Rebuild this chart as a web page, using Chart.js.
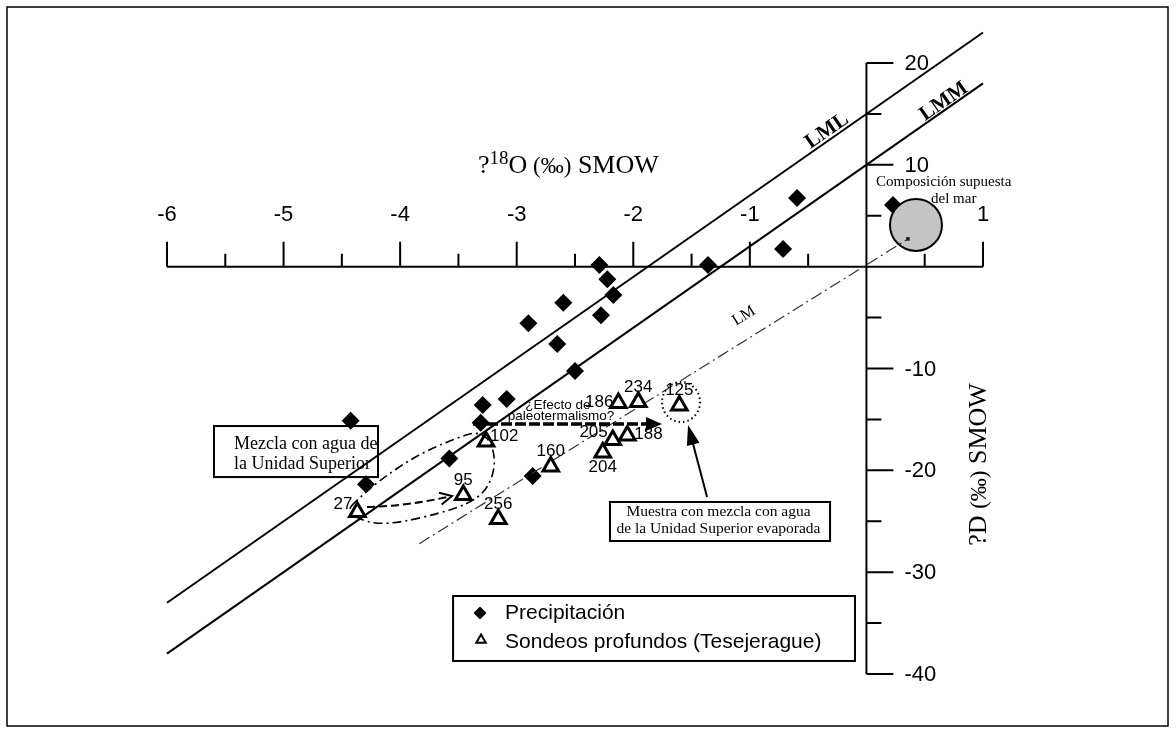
<!DOCTYPE html>
<html>
<head>
<meta charset="utf-8">
<script src="https://cdn.jsdelivr.net/npm/chart.js@4/dist/chart.umd.min.js"></script>
<style>
  html, body { margin: 0; padding: 0; background: #fff; }
  canvas { display: block; }
</style>
</head>
<body>
<canvas id="c" width="1176" height="733"></canvas>
<script>
// Precipitación: δ18O (‰) and δD (‰) SMOW
const precipO18 = [-0.595, 0.228, -0.715, -1.359, -2.291, -2.223, -2.171, -2.600, -2.277, -2.900,
                   -2.652, -2.500, -3.086, -3.292, -3.309, -4.424, -3.578, -4.293, -2.863];
const precipD   = [6.75, 6.06, 1.74, 0.17, 0.17, -1.24, -2.78, -3.54, -4.77, -5.56,
                   -7.59, -10.24, -12.99, -13.58, -15.32, -15.12, -18.85, -21.37, -20.55];

// Sondeos profundos (Tesejerague)
const sondeoIds = ['27', '95', '102', '256', '160', '204', '205', '188', '186', '234', '125'];
const sondeoO18 = [-4.367, -3.458, -3.263, -3.158, -2.708, -2.262, -2.176, -2.051, -2.128, -1.957, -1.605];
const sondeoD   = [-24.09, -22.42, -17.17, -24.78, -19.62, -18.25, -17.02, -16.58, -13.39, -13.29, -13.63];

// Reference lines
const lmmO18 = [-6, 1];
const lmmD   = [-38, 18];
const lmlO18 = [-6, 1];
const lmlD   = [-33, 23];
const lmO18  = [-3.835, 0.356];
const lmD    = [-27.2, 2.72];

// Assumed sea-water composition
const marO18 = [0.425];
const marD   = [4.1];

// Axis ticks
const xTickValues = [-6, -5, -4, -3, -2, -1, 1];
const yTickValues = [20, 10, -10, -20, -30, -40];

// where each borehole number sits relative to its triangle
const labelSide = {
  '27': 'upLeft', '95': 'above', '102': 'upRight', '256': 'above', '160': 'above',
  '204': 'below', '205': 'upLeft', '188': 'right', '186': 'left', '234': 'above', '125': 'above'
};

const SANS = '"Liberation Sans", Arial, Helvetica, sans-serif';
const SERIF = '"Liberation Serif", "Times New Roman", Times, serif';

const toPoints = (xs, ys) => xs.map((x, i) => ({ x, y: ys[i] }));

function arrowHead(c, fx, fy, tx, ty, len, halfW, filled) {
  const a = Math.atan2(ty - fy, tx - fx);
  const bx = tx - len * Math.cos(a), by = ty - len * Math.sin(a);
  const ox = -Math.sin(a) * halfW, oy = Math.cos(a) * halfW;
  c.beginPath();
  c.moveTo(bx + ox, by + oy);
  c.lineTo(tx, ty);
  c.lineTo(bx - ox, by - oy);
  if (filled) { c.closePath(); c.fill(); } else { c.stroke(); }
}

function smoothClosed(c, pts) {
  const n = pts.length;
  const mid = (a, b) => [(a[0] + b[0]) / 2, (a[1] + b[1]) / 2];
  const m = mid(pts[n - 1], pts[0]);
  c.beginPath();
  c.moveTo(m[0], m[1]);
  for (let i = 0; i < n; i++) {
    const p = pts[i], q = pts[(i + 1) % n];
    const mm = mid(p, q);
    c.quadraticCurveTo(p[0], p[1], mm[0], mm[1]);
  }
  c.closePath();
  c.stroke();
}

const decor = {
  id: 'isotopeDecor',
  beforeDraw(chart) {
    const c = chart.ctx;
    c.save();
    c.fillStyle = '#fff';
    c.fillRect(0, 0, chart.width, chart.height);
    c.strokeStyle = '#000';
    c.lineWidth = 1.5;
    c.strokeRect(7, 7, chart.width - 15, chart.height - 14);
    c.restore();
  },
  beforeDatasetsDraw(chart) {
    const c = chart.ctx, xs = chart.scales.x, ys = chart.scales.y;
    const X = v => xs.getPixelForValue(v), Y = v => ys.getPixelForValue(v);
    const x0 = X(0), y0 = Y(0);
    c.save();
    c.strokeStyle = '#000';
    c.lineWidth = 2;
    c.beginPath();
    // δ18O axis along δD = 0
    c.moveTo(X(-6), y0); c.lineTo(X(1), y0);
    for (let k = -12; k <= 2; k++) {
      const px = X(k / 2);
      c.moveTo(px, y0); c.lineTo(px, y0 - (k % 2 === 0 ? 25 : 13));
    }
    // δD axis along δ18O = 0
    c.moveTo(x0, Y(20)); c.lineTo(x0, Y(-40));
    for (let v = -40; v <= 20; v += 5) {
      if (v === 0) continue;
      const py = Y(v);
      c.moveTo(x0, py); c.lineTo(x0 + (v % 10 === 0 ? 27 : 15), py);
    }
    c.stroke();

    c.fillStyle = '#000';
    c.font = `22px ${SANS}`;
    c.textBaseline = 'middle';
    c.textAlign = 'center';
    xTickValues.forEach(v => c.fillText(String(v), X(v), y0 - 52));
    c.textAlign = 'left';
    yTickValues.forEach(v => c.fillText(String(v), x0 + 38, Y(v) + 1));
    c.restore();
  },
  afterDatasetsDraw(chart) {
    const c = chart.ctx, xs = chart.scales.x, ys = chart.scales.y;
    const X = v => xs.getPixelForValue(v), Y = v => ys.getPixelForValue(v);
    const P = (x, y) => [X(x), Y(y)];
    c.save();
    c.fillStyle = '#000';
    c.strokeStyle = '#000';

    // Axis titles
    const runs = (list, x, y) => {
      list.forEach(r => {
        c.font = r.font;
        c.fillText(r.t, x, y + (r.dy || 0));
        x += c.measureText(r.t).width;
      });
    };
    c.textAlign = 'left';
    c.textBaseline = 'alphabetic';
    let [tx, ty] = P(-3.332, 9.2);
    runs([
      { t: '?', font: `26px ${SERIF}` },
      { t: '18', font: `19px ${SERIF}`, dy: -9 },
      { t: 'O', font: `26px ${SERIF}` },
      { t: ' (‰)', font: `23px ${SERIF}` },
      { t: ' SMOW', font: `26px ${SERIF}` }
    ], tx, ty);

    [tx, ty] = P(1.026, -27.4);
    c.save();
    c.translate(tx, ty);
    c.rotate(-Math.PI / 2);
    runs([
      { t: '?D ', font: `26px ${SERIF}` },
      { t: '(‰)', font: `23px ${SERIF}` },
      { t: ' SMOW', font: `26px ${SERIF}` }
    ], 0, 0);
    c.restore();

    // Line labels
    const angLM = Math.atan2(Y(lmmD[1]) - Y(lmmD[0]), X(lmmO18[1]) - X(lmmO18[0]));
    const angLocal = Math.atan2(Y(lmD[1]) - Y(lmD[0]), X(lmO18[1]) - X(lmO18[0]));
    const rotText = (txt, font, x, y, ang) => {
      const [px, py] = P(x, y);
      c.save();
      c.translate(px, py);
      c.rotate(ang);
      c.font = font;
      c.textAlign = 'center';
      c.textBaseline = 'middle';
      c.fillText(txt, 0, 0);
      c.restore();
    };
    rotText('LML', `bold 21px ${SERIF}`, -0.339, 13.33, angLM);
    rotText('LMM', `bold 21px ${SERIF}`, 0.665, 16.22, angLM);
    rotText('LM', `16px ${SERIF}`, -1.05, -4.84, angLocal);

    // Sea-water note
    c.font = `15px ${SERIF}`;
    c.textAlign = 'left';
    c.textBaseline = 'alphabetic';
    [tx, ty] = P(0.082, 7.95); c.fillText('Composición supuesta', tx, ty);
    [tx, ty] = P(0.554, 6.26); c.fillText('del mar', tx, ty);

    // Borehole numbers
    c.font = `17px ${SANS}`;
    c.textBaseline = 'middle';
    sondeoIds.forEach((id, i) => {
      const px = X(sondeoO18[i]), py = Y(sondeoD[i]);
      const side = labelSide[id];
      if (side === 'above') { c.textAlign = 'center'; c.fillText(id, px, py - 15); }
      else if (side === 'below') { c.textAlign = 'center'; c.fillText(id, px, py + 15); }
      else if (side === 'left') { c.textAlign = 'right'; c.fillText(id, px - 5, py - 1); }
      else if (side === 'right') { c.textAlign = 'left'; c.fillText(id, px + 7, py - 1); }
      else if (side === 'upLeft') { c.textAlign = 'right'; c.fillText(id, px - 5, py - 8); }
      else if (side === 'upRight') { c.textAlign = 'left'; c.fillText(id, px + 4, py - 5); }
    });

    // Mixing envelope around 27, 95, 102
    c.lineWidth = 1.6;
    c.setLineDash([9, 4, 2, 4]);
    const loop = [
      [-4.388, -23.1], [-4.174, -20.95], [-3.855, -18.5], [-3.512, -16.8], [-3.340, -16.2],
      [-3.229, -17.0], [-3.186, -18.8], [-3.203, -20.45], [-3.272, -22.1], [-3.418, -23.3],
      [-3.658, -24.2], [-3.975, -25.07], [-4.198, -25.27], [-4.361, -24.78], [-4.447, -23.9]
    ].map(p => P(p[0], p[1]));
    smoothClosed(c, loop);

    // 27 -> 95 mixing arrow
    c.lineWidth = 2;
    c.setLineDash([8, 4]);
    const a0 = P(-4.284, -23.6), a1 = P(-3.933, -23.5), a2 = P(-3.555, -22.52);
    c.beginPath();
    c.moveTo(a0[0], a0[1]);
    c.quadraticCurveTo(a1[0], a1[1], a2[0], a2[1]);
    c.stroke();
    c.setLineDash([]);
    arrowHead(c, a1[0], a1[1], a2[0], a2[1], 12, 6, false);

    // Paleothermal effect arrow
    const b0 = P(-3.375, -15.45), b1 = P(-1.754, -15.45);
    c.lineWidth = 3.5;
    c.setLineDash([11, 3]);
    c.beginPath();
    c.moveTo(b0[0], b0[1]);
    c.lineTo(b1[0] - 14, b1[1]);
    c.stroke();
    c.setLineDash([]);
    arrowHead(c, b0[0], b0[1], b1[0], b1[1], 16, 7, true);
    c.font = `13.5px ${SANS}`;
    c.textAlign = 'center';
    c.textBaseline = 'alphabetic';
    [tx, ty] = P(-2.646, -13.97); c.fillText('¿Efecto de', tx, ty);
    [tx, ty] = P(-2.62, -15.05); c.fillText('paleotermalismo?', tx, ty);

    // Dotted ring around 125
    const r0 = P(-1.590, -13.29);
    c.lineWidth = 2;
    c.setLineDash([1.5, 3]);
    c.beginPath();
    c.ellipse(r0[0], r0[1], 19, 20, 0, 0, Math.PI * 2);
    c.stroke();
    c.setLineDash([]);

    // Pointer to 125
    const d0 = P(-1.367, -22.61), d1 = P(-1.530, -15.55);
    c.lineWidth = 2;
    c.beginPath();
    c.moveTo(d0[0], d0[1]);
    c.lineTo(d1[0] + (d0[0] - d1[0]) * 0.2, d1[1] + (d0[1] - d1[1]) * 0.2);
    c.stroke();
    arrowHead(c, d0[0], d0[1], d1[0], d1[1], 20, 6.5, true);

    // Text boxes
    const box = (x1, y1, x2, y2) => {
      const p = P(x1, y1), q = P(x2, y2);
      c.lineWidth = 2;
      c.strokeRect(p[0], p[1], q[0] - p[0], q[1] - p[1]);
    };
    box(-5.597, -15.65, -4.190, -20.66);
    c.font = `18px ${SERIF}`;
    c.textAlign = 'left';
    c.textBaseline = 'alphabetic';
    [tx, ty] = P(-5.425, -17.9); c.fillText('Mezcla con agua de', tx, ty);
    [tx, ty] = P(-5.425, -19.87); c.fillText('la Unidad Superior', tx, ty);

    box(-2.200, -23.11, -0.312, -26.94);
    c.font = `15.5px ${SERIF}`;
    c.textAlign = 'center';
    [tx, ty] = P(-1.269, -24.45); c.fillText('Muestra con mezcla con agua', tx, ty);
    [tx, ty] = P(-1.269, -26.12); c.fillText('de la Unidad Superior evaporada', tx, ty);

    // Legend
    box(-3.546, -32.34, -0.098, -38.72);
    const ds = chart.data.datasets;
    let [mx, my] = P(-3.315, -34.0);
    c.beginPath();
    c.moveTo(mx - 6.5, my); c.lineTo(mx, my - 6.5); c.lineTo(mx + 6.5, my); c.lineTo(mx, my + 6.5);
    c.closePath();
    c.fillStyle = ds[1].backgroundColor;
    c.fill();
    [mx, my] = P(-3.306, -36.65);
    const r = 5.5;
    c.beginPath();
    c.moveTo(mx, my - r);
    c.lineTo(mx + r * Math.sin(2 * Math.PI / 3), my - r * Math.cos(2 * Math.PI / 3));
    c.lineTo(mx + r * Math.sin(4 * Math.PI / 3), my - r * Math.cos(4 * Math.PI / 3));
    c.closePath();
    c.fillStyle = '#fff';
    c.fill();
    c.lineWidth = 2;
    c.strokeStyle = ds[0].borderColor;
    c.stroke();
    c.fillStyle = '#000';
    c.font = `21px ${SANS}`;
    c.textAlign = 'left';
    c.textBaseline = 'middle';
    [tx, ty] = P(-3.10, -34.0); c.fillText(ds[1].label, tx, ty);
    [tx, ty] = P(-3.10, -36.85); c.fillText(ds[0].label, tx, ty);

    c.restore();
  }
};

new Chart(document.getElementById('c'), {
  type: 'scatter',
  data: {
    datasets: [
      {
        label: 'Sondeos profundos (Tesejerague)',
        data: toPoints(sondeoO18, sondeoD),
        pointStyle: 'triangle',
        pointRadius: 9,
        backgroundColor: '#fff',
        borderColor: '#000',
        borderWidth: 3,
        order: 1,
        clip: false
      },
      {
        label: 'Precipitación',
        data: toPoints(precipO18, precipD),
        pointStyle: 'rectRot',
        pointRadius: 9,
        backgroundColor: '#000',
        borderColor: '#000',
        borderWidth: 0,
        order: 3,
        clip: false
      },
      {
        label: 'mar',
        data: toPoints(marO18, marD),
        pointStyle: 'circle',
        pointRadius: 26,
        backgroundColor: '#c4c4c4',
        borderColor: '#000',
        borderWidth: 2,
        order: 2,
        clip: false
      },
      {
        label: 'LMM',
        data: toPoints(lmmO18, lmmD),
        showLine: true,
        pointRadius: 0,
        borderColor: '#000',
        borderWidth: 2,
        order: 5,
        clip: false
      },
      {
        label: 'LML',
        data: toPoints(lmlO18, lmlD),
        showLine: true,
        pointRadius: 0,
        borderColor: '#000',
        borderWidth: 2,
        order: 5,
        clip: false
      },
      {
        label: 'LM',
        data: toPoints(lmO18, lmD),
        showLine: true,
        pointRadius: ctx => (ctx.dataIndex === 1 ? 1.8 : 0),
        pointStyle: 'rect',
        backgroundColor: '#000',
        borderColor: '#333',
        borderWidth: 1.2,
        borderDash: [12, 4, 2, 4],
        order: 1.5,
        clip: false
      }
    ]
  },
  options: {
    responsive: false,
    animation: false,
    events: [],
    layout: { padding: { left: 167, right: 193, top: 63, bottom: 59 } },
    scales: {
      x: { type: 'linear', min: -6, max: 1, display: false },
      y: { type: 'linear', min: -40, max: 20, display: false }
    },
    plugins: {
      legend: { display: false },
      tooltip: { enabled: false }
    }
  },
  plugins: [decor]
});
</script>
</body>
</html>
